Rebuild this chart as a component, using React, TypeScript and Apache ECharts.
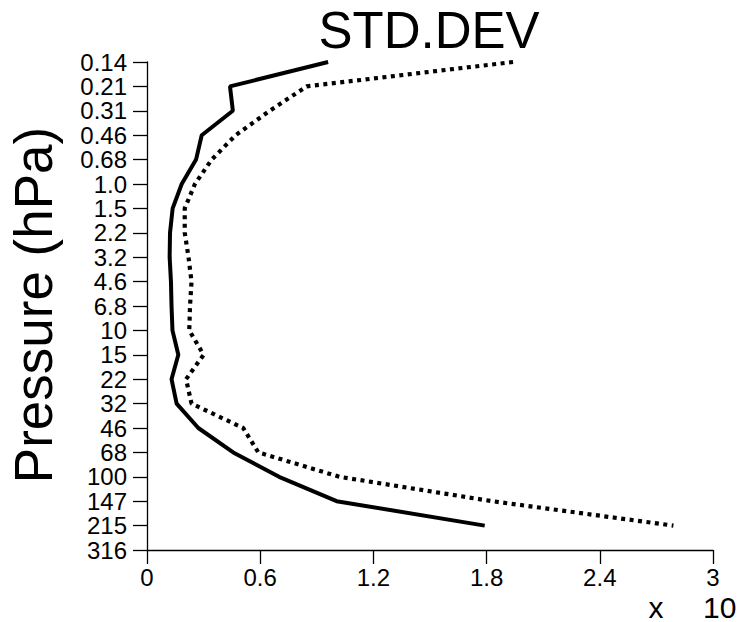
import React, { useEffect, useRef } from "react";
import * as echarts from "echarts";

// Pressure levels (hPa), top of the profile first
const levels = [
  "0.14", "0.21", "0.31", "0.46", "0.68", "1.0", "1.5", "2.2", "3.2", "4.6",
  "6.8", "10", "15", "22", "32", "46", "68", "100", "147", "215", "316",
];

// Standard deviation profiles (units of the x-axis scale)
const solidProfile = [
  0.96, 0.44, 0.455, 0.29, 0.26, 0.184, 0.136, 0.122, 0.12, 0.127,
  0.13, 0.135, 0.166, 0.13, 0.157, 0.272, 0.457, 0.7, 1.005, 1.79,
];
const dottedProfile = [
  1.94, 0.846, 0.65, 0.47, 0.343, 0.254, 0.2, 0.2, 0.22, 0.236,
  0.228, 0.224, 0.3, 0.207, 0.236, 0.51, 0.59, 1.02, 1.83, 2.79,
];

const xMin = 0;
const xMax = 3;
const xStep = 0.6;

const FONT = "Liberation Sans, Arial, Helvetica, sans-serif";

export default function App() {
  const ref = useRef<HTMLDivElement>(null);

  useEffect(() => {
    if (!ref.current) return;
    document.body.style.margin = "0";
    const chart = echarts.init(ref.current, undefined, { renderer: "svg" });
    chart.setOption({
      animation: false,
      backgroundColor: "#ffffff",
      grid: { left: 147, right: 27, top: 62, bottom: 72, containLabel: false },
      xAxis: {
        type: "value",
        min: xMin,
        max: xMax,
        interval: xStep,
        axisLine: { show: true, lineStyle: { color: "#000", width: 1.3 } },
        axisTick: { show: true, length: 14, lineStyle: { color: "#000", width: 1.3 } },
        axisLabel: { color: "#000", fontSize: 24, fontFamily: FONT, margin: 15 },
        splitLine: { show: false },
      },
      yAxis: {
        type: "category",
        data: levels,
        inverse: true,
        boundaryGap: false,
        axisLine: { show: true, lineStyle: { color: "#000", width: 1.3 } },
        axisTick: {
          show: true,
          length: 14,
          alignWithLabel: true,
          interval: 0,
          lineStyle: { color: "#000", width: 1.3 },
        },
        axisLabel: {
          color: "#000",
          fontSize: 24,
          fontFamily: FONT,
          margin: 20,
          interval: 0,
        },
        splitLine: { show: false },
      },
      series: [
        {
          type: "line",
          data: solidProfile,
          showSymbol: false,
          symbol: "none",
          lineStyle: { color: "#000", width: 4, type: "solid" },
        },
        {
          type: "line",
          data: dottedProfile,
          showSymbol: false,
          symbol: "none",
          lineStyle: { color: "#000", width: 4.2, type: [4, 4.5] },
        },
      ],
      graphic: [
        {
          type: "text",
          x: 429,
          y: 30,
          style: {
            text: "STD.DEV",
            font: `51px ${FONT}`,
            fill: "#000",
            align: "center",
            verticalAlign: "middle",
          },
        },
        {
          type: "text",
          x: 33,
          y: 305,
          rotation: Math.PI / 2,
          style: {
            text: "Pressure (hPa)",
            font: `53px ${FONT}`,
            fill: "#000",
            align: "center",
            verticalAlign: "middle",
          },
        },
        {
          type: "text",
          x: 656,
          y: 607,
          style: {
            text: "x",
            font: `30px ${FONT}`,
            fill: "#000",
            align: "center",
            verticalAlign: "middle",
          },
        },
        {
          type: "text",
          x: 703,
          y: 607,
          style: {
            text: "10",
            font: `30px ${FONT}`,
            fill: "#000",
            align: "left",
            verticalAlign: "middle",
          },
        },
      ],
    });
    return () => chart.dispose();
  }, []);

  return <div ref={ref} style={{ width: 740, height: 622 }} />;
}
